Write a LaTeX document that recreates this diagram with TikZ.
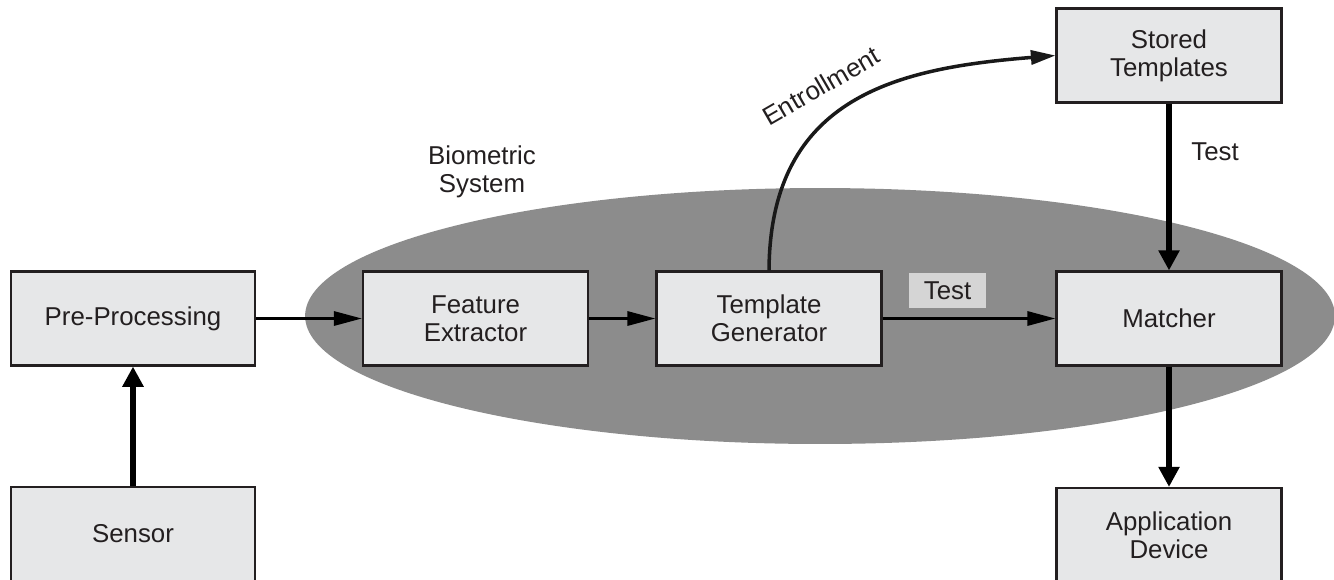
\documentclass[tikz,border=0pt]{standalone}
\usepackage{fontspec}
\setmainfont{Liberation Sans}
\usetikzlibrary{arrows.meta}
\definecolor{boxfill}{HTML}{E6E7E8}
\definecolor{ink}{HTML}{231F20}
\definecolor{ellfill}{HTML}{8C8C8C}
\definecolor{labfill}{HTML}{D5D5D5}
\tikzset{
  blockbox/.style={draw=ink, fill=boxfill, line width=1.2pt, minimum width=4.5cm, minimum height=1.88cm, inner sep=0pt, align=center, text=ink, font=\fontsize{14.7}{16.1}\selectfont},
  plaintext/.style={text=ink, align=center, inner sep=0pt, font=\fontsize{14.7}{16.1}\selectfont},
  harrow/.style={draw=black, line width=1.7pt, -{Triangle[length=16pt,width=8pt]}},
  varrow/.style={draw=black, line width=3pt, -{Triangle[length=11.5pt,width=11.5pt]}},
  curvearrow/.style={draw=black!90, line width=2pt, -{Triangle[length=14pt,width=8pt]}}
}
\begin{document}
\begin{tikzpicture}[x=0.02cm, y=-0.02cm]
\useasboundingbox (0,0) rectangle (1334,579);
\fill[white] (0,0) rectangle (1334,579);
% ellipse
\fill[ellfill] (820,316) ellipse [x radius=10.3cm, y radius=2.56cm];
% boxes
\node[blockbox, minimum width=4.88cm] (pre) at (133,318.5) {Pre-Processing};
\node[blockbox, minimum width=4.88cm] (sen) at (133,534) {Sensor};
\node[blockbox] (fe) at (475.5,318.5) {Feature\\Extractor};
\node[blockbox] (tg) at (769,318.5) {Template\\Generator};
\node[blockbox] (ma) at (1169,318.5) {Matcher};
\node[blockbox] (st) at (1169,55.5) {Stored\\Templates};
\node[blockbox] (ap) at (1169,535) {Application\\Device};
% labels
\node[plaintext] (bio) at (482,172) {Biometric\\System};
\node[plaintext, fill=labfill, minimum width=1.54cm, minimum height=0.7cm] (test1) at (947.5,290.5) {Test};
\node[plaintext] (test2) at (1215,152) {Test};
\node[plaintext, rotate=30] (enr) at (821,86) {Entrollment};
% connectors
\draw[varrow] (sen.north) -- (pre.south);
\draw[harrow] (pre.east) -- (fe.west);
\draw[harrow] (fe.east) -- (tg.west);
\draw[harrow] (tg.east) -- (ma.west);
\draw[varrow] (st.south) -- (ma.north);
\draw[varrow] (ma.south) -- (ap.north);
\draw[curvearrow] (tg.north) .. controls (770,95) and (900,68) .. (st.west);
\end{tikzpicture}
\end{document}
